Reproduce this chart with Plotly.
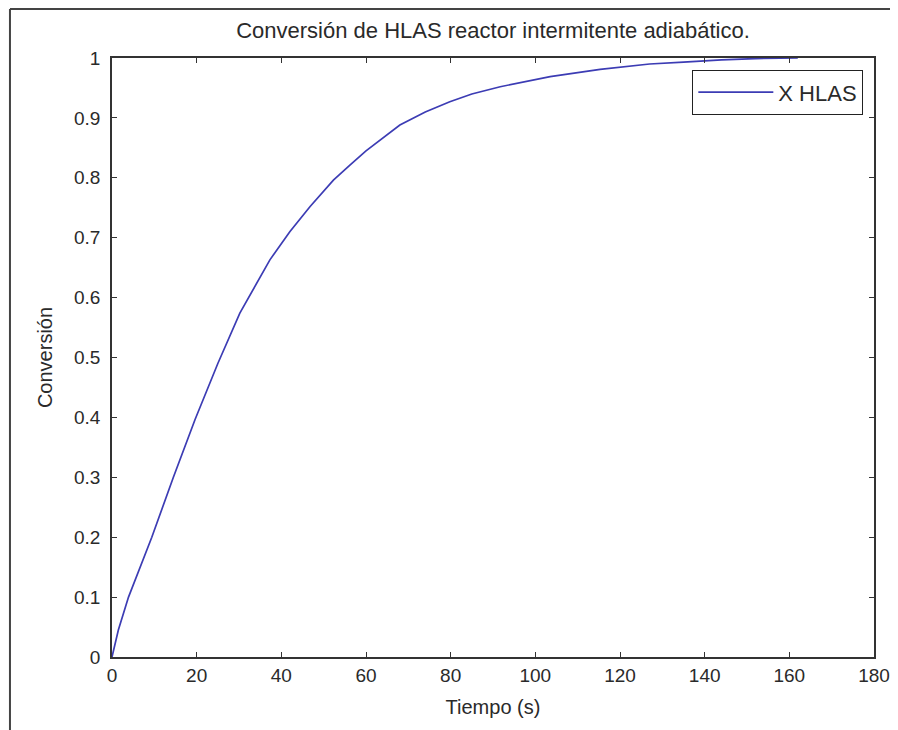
import plotly.graph_objects as go

tiempo = [0, 1.5, 3.9, 9.4, 14.5, 19.6, 25, 30.2, 37.3, 42, 46.8, 52.3, 56.2, 60, 68,
          74, 79.8, 85, 91.7, 103.5, 115.3, 127, 135, 144, 152, 162]
conversion = [0, 0.045, 0.1, 0.2, 0.3, 0.396, 0.49, 0.574, 0.663, 0.71, 0.752, 0.796, 0.821,
              0.845, 0.888, 0.91, 0.927, 0.94, 0.952, 0.969, 0.981, 0.99, 0.993, 0.997,
              0.999, 1.0]
x_ticks = [0, 20, 40, 60, 80, 100, 120, 140, 160, 180]
y_ticks = [0, 0.1, 0.2, 0.3, 0.4, 0.5, 0.6, 0.7, 0.8, 0.9, 1]
y_labels = ["0", "0.1", "0.2", "0.3", "0.4", "0.5", "0.6", "0.7", "0.8", "0.9", "1"]

FONT = "Liberation Sans, Arial, sans-serif"
TXT = "#2a2a2a"

fig = go.Figure()
fig.add_trace(go.Scatter(x=tiempo, y=conversion, mode="lines", name="X HLAS",
                         line=dict(color="#3c3cb4", width=1.7)))

axis_common = dict(showgrid=False, zeroline=False, showline=True, linecolor="#333333",
                   linewidth=1.5, mirror="ticks", ticks="inside", ticklen=5,
                   tickcolor="#333333", tickwidth=1.3, automargin=False,
                   tickfont=dict(family=FONT, size=19, color=TXT))

fig.update_xaxes(range=[0, 180], tickvals=x_ticks, ticktext=[str(v) for v in x_ticks],
                 title=dict(text="Tiempo (s)", font=dict(family=FONT, size=20, color=TXT),
                            standoff=15), **axis_common)
fig.update_yaxes(range=[0, 1], tickvals=y_ticks, ticktext=y_labels, ticklabelstandoff=6,
                 title=dict(text="Conversión", font=dict(family=FONT, size=20, color=TXT),
                            standoff=16), **axis_common)

fig.update_layout(
    width=890, height=722,
    margin=dict(l=104, r=24, t=50, b=73),
    paper_bgcolor="white", plot_bgcolor="white",
    title=dict(text="Conversión de HLAS reactor intermitente adiabático.",
               x=0.5, xref="paper", xanchor="center", y=1 - 22 / 722, yanchor="middle",
               font=dict(family=FONT, size=22, color=TXT)),
    showlegend=True,
    legend=dict(x=0.9856, xanchor="right", y=0.98, yanchor="top",
                bordercolor="#222222", borderwidth=1.3, bgcolor="white",
                font=dict(family=FONT, size=22, color=TXT), itemwidth=75),
    shapes=[
        dict(type="line", xref="paper", yref="paper", x0=-0.1339, x1=-0.1339,
             y0=-0.2, y1=1.0818, line=dict(color="#444444", width=2)),
        dict(type="line", xref="paper", yref="paper", x0=-0.1339, x1=1.1,
             y0=1.0818, y1=1.0818, line=dict(color="#444444", width=2)),
    ],
)

fig.write_html("out.html")
